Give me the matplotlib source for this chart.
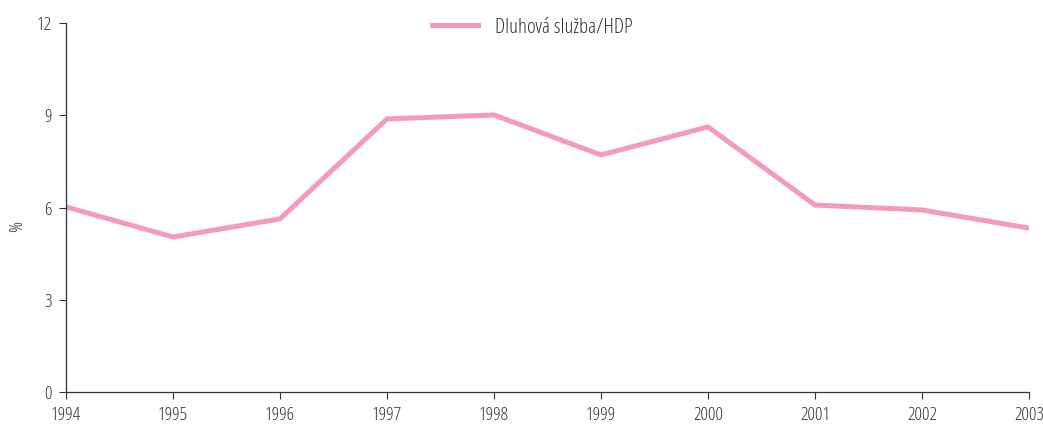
import matplotlib
matplotlib.use("Agg")
import matplotlib.pyplot as plt

years = [1994, 1995, 1996, 1997, 1998, 1999, 2000, 2001, 2002, 2003]
dluhova_sluzba = [6.02, 5.04, 5.63, 8.88, 9.01, 7.71, 8.62, 6.08, 5.92, 5.33]
y_ticks = [0, 3, 6, 9, 12]

plt.rcParams['font.family'] = ['Open Sans', 'DejaVu Sans']
plt.rcParams['font.stretch'] = 'condensed'

fig = plt.figure(figsize=(10.43, 4.3), dpi=100)
ax = fig.add_axes([66 / 1043, 1 - 392 / 430, (1029 - 66) / 1043, (392 - 23) / 430])

ax.plot(years, dluhova_sluzba, color="#F49AC1", lw=3.6, solid_joinstyle="miter",
        label="Dluhová služba/HDP")

ax.set_xlim(years[0], years[-1])
ax.set_ylim(0, 12)
ax.set_xticks(years)
ax.set_yticks(y_ticks)
ax.set_ylabel("%", fontsize=13.5, color="#333333")
ax.yaxis.set_label_coords(-0.041, 0.45)

for s in ["top", "right"]:
    ax.spines[s].set_visible(False)
for s in ["left", "bottom"]:
    ax.spines[s].set_color("#333333")
    ax.spines[s].set_linewidth(0.9)
ax.tick_params(axis="both", direction="out", length=5, width=0.8, color="#333333",
               labelsize=13.5, labelcolor="#333333")
ax.tick_params(axis="x", pad=5)
ax.tick_params(axis="y", pad=5)

leg = ax.legend(loc="upper center", bbox_to_anchor=(0.484, 1.065), frameon=False,
                fontsize=15, handlelength=2.2, handletextpad=0.8,
                labelcolor="#333333")

fig.savefig("out.png", dpi=100)
